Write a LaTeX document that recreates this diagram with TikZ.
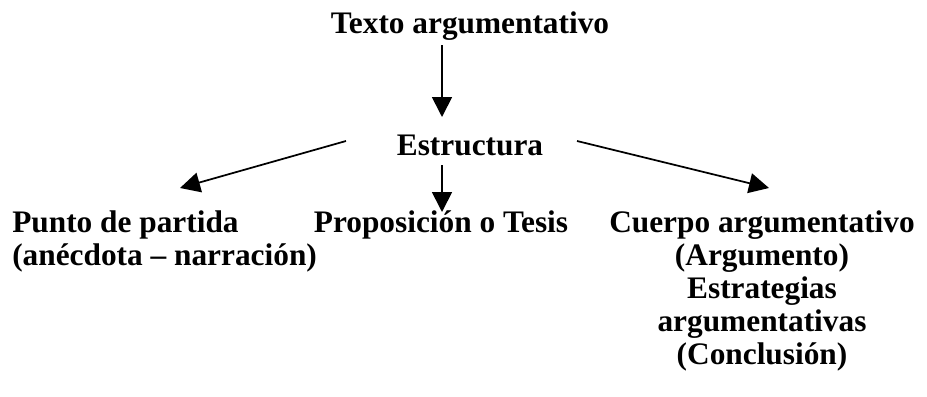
\documentclass[tikz,border=0pt]{standalone}
\usepackage{fontspec}
\setmainfont{Liberation Serif}
\usepackage{tikz}
\usetikzlibrary{arrows.meta,calc}
\tikzset{every picture/.append style={x=0.75pt,y=-0.75pt}}
\tikzset{lbl/.style={inner sep=0pt, font=\fontsize{23.5}{24.75}\selectfont\bfseries}}
\tikzset{arc/.style={line width=1.3pt, -{Triangle[length=15pt,width=15pt]}}}

\begin{document}
\begin{tikzpicture}
\useasboundingbox (0,0) rectangle (927,396);
\node (texto) at (470,26)[lbl]{Texto argumentativo};
\node (estr) at (470,145)[lbl]{Estructura};
\node (punto) at (12,241)[lbl, anchor=west, align=left]{Punto de partida\\(anécdota – narración)};
\node (prop) at (441,225)[lbl]{Proposición o Tesis};
\node (cuerpo) at (762,291)[lbl, align=center]{Cuerpo argumentativo\\(Argumento)\\Estrategias\\argumentativas\\(Conclusión)};

\draw[arc] ($(texto)+(-28,19)$) -- ($(estr)+(-28,-28)$);
\draw[arc] ($(estr)+(-124,-4)$) -- ($(punto.west)+(168,-53)$);
\draw[arc] ($(estr)+(-28,20)$) -- ($(prop)+(1,-13)$);
\draw[arc] ($(estr)+(107,-4)$) -- ($(cuerpo)+(7,-103)$);
\end{tikzpicture}
\end{document}
